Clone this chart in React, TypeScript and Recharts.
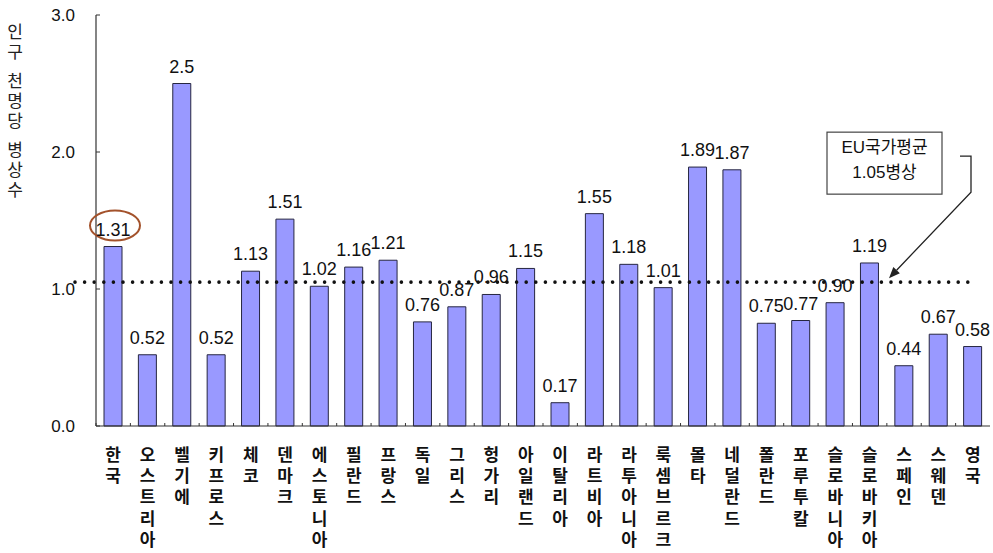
import React from 'react';
import { BarChart, Bar, XAxis, YAxis, ReferenceLine, LabelList } from 'recharts';

// Hospital beds per 1,000 population, by country
const countries = [
  '한국', '오스트리아', '벨기에', '키프로스', '체코', '덴마크', '에스토니아', '필란드', '프랑스',
  '독일', '그리스', '헝가리', '아일랜드', '이탈리아', '라트비아', '라투아니아', '룩셈브르크', '몰타',
  '네덜란드', '폴란드', '포루투칼', '슬로바니아', '슬로바키아', '스페인', '스웨덴', '영국',
];
const bedsPerThousand = [
  1.31, 0.52, 2.5, 0.52, 1.13, 1.51, 1.02, 1.16, 1.21, 0.76, 0.87, 0.96, 1.15, 0.17, 1.55,
  1.18, 1.01, 1.89, 1.87, 0.75, 0.77, 0.9, 1.19, 0.44, 0.67, 0.58,
];
const valueLabels = [
  '1.31', '0.52', '2.5', '0.52', '1.13', '1.51', '1.02', '1.16', '1.21', '0.76', '0.87', '0.96',
  '1.15', '0.17', '1.55', '1.18', '1.01', '1.89', '1.87', '0.75', '0.77', '0.90', '1.19', '0.44',
  '0.67', '0.58',
];
const yTicks = [0, 1, 2, 3];
const yAxisTitleWords = ['인구', '천명당', '병상수'];
const EU_AVERAGE = 1.05;
const euNoteLines = ['EU국가평균', '1.05병상'];
const highlightIndex = 0;

const data = countries.map((country, i) => ({
  country,
  beds: bedsPerThousand[i],
  label: valueLabels[i],
}));

const LATIN = '"Liberation Sans", Arial, "Noto Sans CJK KR", sans-serif';
const HANGUL = '"Noto Sans CJK KR", sans-serif';
const VERTICAL: React.CSSProperties = { writingMode: 'vertical-rl', textOrientation: 'upright' };

// Country names run top-to-bottom with upright syllables
const CountryTick = (props: any) => {
  const { x, y, payload } = props;
  const half = typeof payload?.offset === 'number' && payload.offset > 0 ? payload.offset : 17.2;
  return (
    <g>
      <line x1={x - half} x2={x - half} y1={y} y2={y - 3} stroke="#333" strokeWidth={1} />
      <text
        x={x}
        y={y + 20}
        textAnchor="start"
        fontSize={17}
        fontWeight={700}
        fontFamily={HANGUL}
        fill="#111"
        style={{ ...VERTICAL, letterSpacing: '4.2px' }}
      >
        {payload.value}
      </text>
    </g>
  );
};

const ValueTick = (props: any) => {
  const { x, y, payload } = props;
  return (
    <g>
      <line x1={x} x2={x + 4} y1={y} y2={y} stroke="#333" strokeWidth={1} />
      <text x={x - 21} y={y + 6} textAnchor="end" fontSize={17} fontFamily={LATIN} fill="#111">
        {Number(payload.value).toFixed(1)}
      </text>
    </g>
  );
};

// Axis title stacked vertically, one word after another with a small gap
const AxisTitle = (props: any) => {
  const vb = props.viewBox || { x: 0, y: 0 };
  const step = 20;
  const gap = 9;
  let top = 23;
  return (
    <g>
      {yAxisTitleWords.map((word) => {
        const y = top;
        top += Array.from(word).length * step + gap;
        return (
          <text
            key={word}
            x={vb.x + 15}
            y={y}
            textAnchor="start"
            fontSize={17}
            fontFamily={HANGUL}
            fill="#222"
            style={{ ...VERTICAL, letterSpacing: '3px' }}
          >
            {word}
          </text>
        );
      })}
    </g>
  );
};

const ValueLabel = (props: any) => {
  const { x, y, width, value, index } = props;
  const cx = Number(x) + Number(width) / 2;
  const top = Number(y);
  return (
    <g>
      {index === highlightIndex && (
        <ellipse
          cx={cx + 2}
          cy={top - 21}
          rx={25}
          ry={15}
          fill="none"
          stroke="#A3522B"
          strokeWidth={2}
        />
      )}
      <text x={cx} y={top - 11} textAnchor="middle" fontSize={18} fontFamily={LATIN} fill="#111">
        {value}
      </text>
    </g>
  );
};

// Dotted EU-average line with its callout box and arrow
const AverageLine = (props: any) => {
  const { x1, x2, y1 } = props;
  const left = Math.min(x1, x2);
  const right = Math.max(x1, x2);
  const y = y1;
  const boxLeft = right - 163;
  const boxRight = right - 48;
  const boxTop = y - 150;
  const boxBottom = y - 88;
  const bx = right - 30;
  const cornerX = right - 19;
  const by = boxTop + 24;
  const cornerY = y - 90;
  const tipX = right - 101;
  const tipY = y - 4;
  const dx = tipX - cornerX;
  const dy = tipY - cornerY;
  const len = Math.sqrt(dx * dx + dy * dy);
  const ux = dx / len;
  const uy = dy / len;
  const headLen = 11;
  const headW = 4.5;
  const baseX = tipX - ux * headLen;
  const baseY = tipY - uy * headLen;
  const head = `${tipX},${tipY} ${baseX - uy * headW},${baseY + ux * headW} ${baseX + uy * headW},${baseY - ux * headW}`;
  const midX = (boxLeft + boxRight) / 2;
  return (
    <g>
      <line
        x1={left - 21}
        x2={right - 18}
        y1={y}
        y2={y}
        stroke="#111"
        strokeWidth={3.6}
        strokeDasharray="0 9.6"
        strokeLinecap="round"
      />
      <rect
        x={boxLeft}
        y={boxTop}
        width={boxRight - boxLeft}
        height={boxBottom - boxTop}
        fill="#fff"
        stroke="#444"
        strokeWidth={1.2}
      />
      <text x={midX} y={boxTop + 21} textAnchor="middle" fontSize={17} fontFamily={LATIN} fill="#111">
        {euNoteLines[0]}
      </text>
      <text x={midX} y={boxTop + 46} textAnchor="middle" fontSize={17} fontFamily={LATIN} fill="#111">
        {euNoteLines[1]}
      </text>
      <polyline
        points={`${bx},${by} ${cornerX},${by} ${cornerX},${cornerY} ${baseX},${baseY}`}
        fill="none"
        stroke="#222"
        strokeWidth={1.3}
      />
      <polygon points={head} fill="#222" />
    </g>
  );
};

export default function App() {
  return (
    <div style={{ position: 'absolute', left: 0, top: 0, width: 993, height: 553, background: '#fff' }}>
      <BarChart
        width={993}
        height={553}
        data={data}
        margin={{ top: 15, right: 3, bottom: 0, left: 0 }}
      >
        <XAxis
          dataKey="country"
          type="category"
          interval={0}
          height={127}
          axisLine={{ stroke: '#333', strokeWidth: 1.2 }}
          tickLine={false}
          tickSize={0}
          tickMargin={0}
          tick={<CountryTick />}
        />
        <YAxis
          type="number"
          domain={[0, 3]}
          ticks={yTicks}
          width={96}
          axisLine={{ stroke: '#333', strokeWidth: 1.2 }}
          tickLine={false}
          tickSize={0}
          tickMargin={0}
          tick={<ValueTick />}
          label={<AxisTitle />}
        />
        <Bar
          dataKey="beds"
          fill="#9999FF"
          stroke="#262640"
          strokeWidth={1}
          barSize={18}
          isAnimationActive={false}
        >
          <LabelList dataKey="label" content={<ValueLabel />} />
        </Bar>
        <ReferenceLine y={EU_AVERAGE} shape={(p: any) => <AverageLine {...p} />} />
      </BarChart>
    </div>
  );
}
